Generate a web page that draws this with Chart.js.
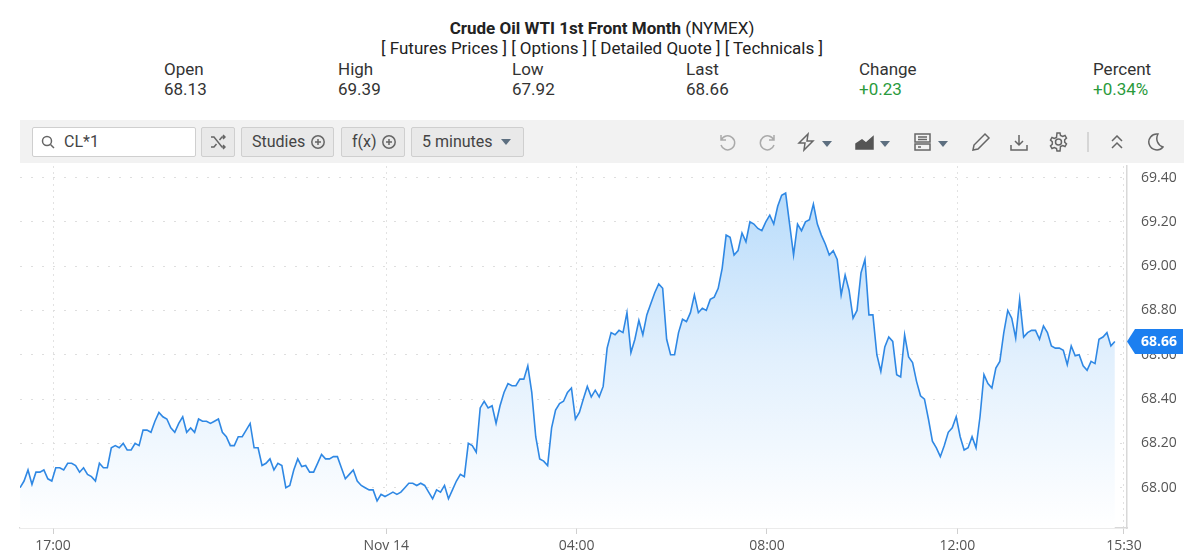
<!DOCTYPE html>
<html>
<head>
<meta charset="utf-8">
<title>Crude Oil WTI 1st Front Month</title>
<script src="https://cdn.jsdelivr.net/npm/chart.js@4"></script>
<style>
  html, body { margin: 0; padding: 0; background: #fff; }
  body { width: 1200px; height: 553px; position: relative; overflow: hidden; font-family: Roboto, sans-serif; color: #222; }
  .abs { position: absolute; white-space: nowrap; }
  .center { left: 0; width: 1204px; text-align: center; font-size: 17px; line-height: 20px; }
  .quote { font-size: 17px; line-height: 20px; color: #333; }
  .green { color: #2a9a3c; }
  #toolbar { position: absolute; left: 20px; top: 120px; width: 1164px; height: 43px; background: #f2f2f2; }
  .box { position: absolute; top: 7px; height: 28px; box-sizing: content-box; border: 1px solid #cfcfcf; border-radius: 2px; background: #e9e9e9; font-size: 16px; line-height: 28px; color: #444; }
  .box span { position: absolute; top: 0; }
  svg { position: absolute; fill: none; stroke: #666; stroke-width: 1.5; }
  .caret { position: absolute; top: 141px; width: 0; height: 0; border-left: 5px solid transparent; border-right: 5px solid transparent; border-top: 6px solid #5d6f80; }
  #priceChart { position: absolute; left: 0; top: 165px; }
</style>
</head>
<body>

<div class="abs center" style="top:18px"><b style="font-size:17px">Crude Oil WTI 1st Front Month</b> (NYMEX)</div>
<div class="abs center" style="top:38px">[ Futures Prices ] [ Options ] [ Detailed Quote ] [ Technicals ]</div>

<div class="abs quote" style="left:164px;top:59px">Open</div>
<div class="abs quote" style="left:164px;top:79px">68.13</div>
<div class="abs quote" style="left:338px;top:59px">High</div>
<div class="abs quote" style="left:338px;top:79px">69.39</div>
<div class="abs quote" style="left:512px;top:59px">Low</div>
<div class="abs quote" style="left:512px;top:79px">67.92</div>
<div class="abs quote" style="left:686px;top:59px">Last</div>
<div class="abs quote" style="left:686px;top:79px">68.66</div>
<div class="abs quote" style="left:859px;top:59px">Change</div>
<div class="abs quote green" style="left:859px;top:79px">+0.23</div>
<div class="abs quote" style="left:1093px;top:59px">Percent</div>
<div class="abs quote green" style="left:1093px;top:79px">+0.34%</div>

<div id="toolbar">
  <div class="box" style="left:12px;width:162px;background:#fff"><span style="left:31px">CL*1</span>
    <svg style="left:8px;top:7px" width="14" height="14" viewBox="0 0 14 14"><circle cx="6" cy="6" r="4.500"/><path d="M9.500 9.500L13 13"/></svg>
  </div>
  <div class="box" style="left:181px;width:32px">
    <svg style="left:8px;top:6px" width="16" height="16" viewBox="0 0 16 16"><path d="M1 3h3l8 10h3M1 13h3l2.500-3M9.500 6L12 3h3M13 1l2 2-2 2M13 11l2 2-2 2"/></svg>
  </div>
  <div class="box" style="left:221px;width:91px"><span style="left:10px">Studies</span>
    <svg style="left:69px;top:7px" width="14" height="14" viewBox="0 0 14 14"><circle cx="7" cy="7" r="6.200"/><path d="M7 4v6M4 7h6"/></svg>
  </div>
  <div class="box" style="left:321px;width:62px"><span style="left:10px">f(x)</span>
    <svg style="left:40px;top:7px" width="14" height="14" viewBox="0 0 14 14"><circle cx="7" cy="7" r="6.200"/><path d="M7 4v6M4 7h6"/></svg>
  </div>
  <div class="box" style="left:391px;width:111px"><span style="left:10px">5 minutes</span>
    <i class="caret" style="left:89px;top:11px"></i>
  </div>
</div>

<svg style="left:717px;top:132px;stroke:#aaa" width="20" height="20" viewBox="0 0 20 20"><path d="M4 3v5h5M4.300 8a7 7 0 1 1-.3 5"/></svg>
<svg style="left:758px;top:132px;stroke:#aaa" width="20" height="20" viewBox="0 0 20 20"><path d="M16 3v5h-5M15.700 8a7 7 0 1 0 .3 5"/></svg>
<svg style="left:797px;top:132px" width="19" height="20" viewBox="0 0 19 20"><path d="M11 2L2 11h6l-1 7 9-9h-6z"/></svg>
<i class="caret" style="left:822px"></i>
<svg style="left:855px;top:134px;fill:#555;stroke:#555" width="20" height="16" viewBox="0 0 20 16"><path d="M1 15V10l6-4 4 3 7-6v12z"/></svg>
<i class="caret" style="left:880px"></i>
<svg style="left:914px;top:133px" width="17" height="18" viewBox="0 0 17 18"><rect x="1" y="1" width="15" height="8"/><rect x="1" y="11" width="15" height="6"/><path d="M4 4h9M4 6.500h9M4 14h3"/></svg>
<i class="caret" style="left:938px"></i>
<svg style="left:971px;top:132px" width="20" height="20" viewBox="0 0 20 20"><path d="M2 18l1-5L14 2l4 4L7 17z"/></svg>
<svg style="left:1010px;top:133px" width="18" height="18" viewBox="0 0 18 18"><path d="M9 2v10M5 8l4 4 4-4M1 12v5h16v-5"/></svg>
<svg style="left:1049px;top:132px" width="19" height="20" viewBox="0 0 19 20"><circle cx="9.500" cy="10" r="3"/><path d="M8 1h3l.5 2.500 2.200 1 2.300-1 1.500 2.600-1.800 1.700v2.400l1.800 1.700-1.500 2.600-2.300-1-2.200 1L11 19H8l-.5-2.500-2.200-1-2.300 1-1.500-2.600 1.800-1.700V9.800L1.500 8.100 3 5.500l2.300 1 2.200-1z"/></svg>
<svg style="left:1087px;top:132px;stroke:#ccc" width="2" height="20"><path d="M1 0v20"/></svg>
<svg style="left:1110px;top:135px" width="14" height="14" viewBox="0 0 14 14"><path d="M2 6l5-5 5 5M2 13l5-5 5 5"/></svg>
<svg style="left:1146px;top:132px" width="18" height="20" viewBox="0 0 18 20"><path d="M12 2a8 8 0 1 0 5 13A9 9 0 0 1 12 2z"/></svg>

<canvas id="priceChart" width="1200" height="388"></canvas>

<script>
// ===== Data =====
const closePrices = [
  68.00, 68.03, 68.08, 68.015, 68.07, 68.07, 68.08, 68.04, 68.03, 68.09,
  68.09, 68.08, 68.11, 68.11, 68.10, 68.07, 68.09, 68.06, 68.05, 68.03,
  68.11, 68.09, 68.09, 68.18, 68.19, 68.18, 68.20, 68.17, 68.17, 68.20,
  68.19, 68.26, 68.26, 68.25, 68.30, 68.34, 68.32, 68.31, 68.27, 68.25,
  68.29, 68.32, 68.25, 68.27, 68.25, 68.31, 68.30, 68.30, 68.29, 68.30,
  68.31, 68.25, 68.23, 68.19, 68.19, 68.23, 68.23, 68.26, 68.29, 68.18,
  68.18, 68.10, 68.11, 68.13, 68.08, 68.11, 68.10, 68.00, 68.01, 68.08,
  68.13, 68.095, 68.10, 68.07, 68.07, 68.11, 68.15, 68.13, 68.13, 68.14,
  68.14, 68.09, 68.04, 68.06, 68.08, 68.03, 68.01, 68.00, 67.99, 67.99,
  67.94, 67.97, 67.96, 67.97, 67.98, 67.97, 67.98, 68.00, 68.02, 68.02,
  68.01, 68.02, 68.01, 67.98, 67.95, 67.99, 67.98, 68.01, 67.95, 67.99,
  68.03, 68.06, 68.05, 68.20, 68.19, 68.16, 68.36, 68.39, 68.36, 68.37,
  68.29, 68.37, 68.43, 68.47, 68.46, 68.46, 68.49, 68.49, 68.55, 68.43,
  68.23, 68.13, 68.12, 68.10, 68.27, 68.35, 68.38, 68.39, 68.43, 68.45,
  68.31, 68.34, 68.40, 68.457, 68.41, 68.44, 68.41, 68.457, 68.63, 68.70,
  68.69, 68.71, 68.70, 68.79, 68.61, 68.67, 68.755, 68.69, 68.78, 68.83,
  68.88, 68.92, 68.90, 68.67, 68.60, 68.60, 68.70, 68.76, 68.75, 68.79,
  68.87, 68.79, 68.81, 68.80, 68.85, 68.86, 68.90, 68.99, 69.14, 69.13,
  69.05, 69.07, 69.15, 69.11, 69.20, 69.19, 69.17, 69.16, 69.20, 69.23,
  69.19, 69.27, 69.32, 69.33, 69.19, 69.05, 69.19, 69.16, 69.20, 69.21,
  69.28, 69.19, 69.14, 69.10, 69.05, 69.07, 69.03, 68.87, 68.96, 68.89,
  68.765, 68.80, 68.97, 69.03, 68.78, 68.78, 68.60, 68.525, 68.635, 68.68,
  68.66, 68.51, 68.50, 68.69, 68.59, 68.565, 68.48, 68.415, 68.40, 68.31,
  68.21, 68.18, 68.14, 68.19, 68.25, 68.27, 68.32, 68.23, 68.17, 68.18,
  68.23, 68.18, 68.32, 68.51, 68.47, 68.45, 68.54, 68.57, 68.70, 68.80,
  68.765, 68.675, 68.85, 68.68, 68.70, 68.71, 68.71, 68.67, 68.73, 68.70,
  68.64, 68.63, 68.63, 68.62, 68.555, 68.64, 68.595, 68.60, 68.55, 68.53,
  68.57, 68.56, 68.67, 68.68, 68.70, 68.64, 68.66
];

// minutes counted from 17:00 on the first session day
const firstBarMinute = -41.5;
const barMinutes = 5;
const xTickMinutes = [0, 420, 660, 900, 1140, 1350];
const xTickLabels = ["17:00", "Nov 14", "04:00", "08:00", "12:00", "15:30"];
const yTickValues = [68.0, 68.2, 68.4, 68.6, 68.8, 69.0, 69.2, 69.4];

const axisFont = { family: "'Open Sans', sans-serif", size: 14 };

// ===== Area gradient =====
function areaFill(context) {
  const { chart } = context;
  if (!chart.chartArea) return "#e3f0fd";
  const top = chart.scales.y.getPixelForValue(69.33);
  const g = chart.ctx.createLinearGradient(0, top, 0, chart.chartArea.bottom);
  g.addColorStop(0, "#b9dcfb");
  g.addColorStop(0.5, "#e2f0fd");
  g.addColorStop(1, "#ffffff");
  return g;
}

// ===== Last price callout =====
const lastPriceTag = {
  id: "lastPriceTag",
  afterDraw(chart) {
    const { ctx, chartArea, scales } = chart;
    const last = closePrices[closePrices.length - 1];
    const y = scales.y.getPixelForValue(last);
    const left = chartArea.right;
    ctx.save();
    ctx.fillStyle = "#1c7ff0";
    ctx.beginPath();
    ctx.moveTo(left, y);
    ctx.lineTo(left + 8, y - 12.5);
    ctx.lineTo(left + 56, y - 12.5);
    ctx.lineTo(left + 56, y + 12.5);
    ctx.lineTo(left + 8, y + 12.5);
    ctx.closePath();
    ctx.fill();
    ctx.fillStyle = "#fff";
    ctx.font = "bold 14px 'Open Sans', sans-serif";
    ctx.textAlign = "center";
    ctx.textBaseline = "middle";
    ctx.fillText(last.toFixed(2), left + 32, y + 0.5);
    ctx.restore();
  }
};

// ===== Chart =====
new Chart(document.getElementById("priceChart"), {
  type: "line",
  data: {
    datasets: [{
      data: closePrices.map((v, i) => ({ x: firstBarMinute + i * barMinutes, y: v })),
      borderColor: "#2f88e4",
      borderWidth: 1.6,
      backgroundColor: areaFill,
      fill: "start",
      pointRadius: 0,
      tension: 0
    }]
  },
  options: {
    responsive: false,
    animation: false,
    layout: { padding: { left: 20, top: 1, right: 0, bottom: 0 } },
    plugins: { legend: { display: false }, tooltip: { enabled: false } },
    scales: {
      x: {
        type: "linear",
        min: -41.6,
        max: 1353.8,
        afterBuildTicks: scale => { scale.ticks = xTickMinutes.map(v => ({ value: v })); },
        afterFit: scale => { scale.height = 25; scale.paddingLeft = 0; scale.paddingRight = 0; },
        ticks: {
          autoSkip: false,
          maxRotation: 0,
          color: "#555",
          font: axisFont,
          padding: 4,
          callback: (value, index) => xTickLabels[index]
        },
        grid: { color: "#e2e2e2", tickLength: 6, tickColor: "#cfcfcf", tickBorderDash: [] },
        border: { display: true, color: "#d8d8d8", width: 1.5, dash: [2, 4] }
      },
      y: {
        position: "right",
        min: 67.818,
        max: 69.452,
        afterBuildTicks: scale => { scale.ticks = yTickValues.map(v => ({ value: v })); },
        afterFit: scale => { scale.width = 73; scale.paddingTop = 0; scale.paddingBottom = 0; },
        ticks: {
          color: "#555",
          font: axisFont,
          padding: 14,
          callback: value => value.toFixed(2)
        },
        grid: { color: "#dedede", tickLength: 0, drawTicks: false },
        border: { display: true, color: "#d8d8d8", width: 1.5, dash: [2, 9] }
      }
    }
  },
  plugins: [lastPriceTag]
});
</script>
</body>
</html>
